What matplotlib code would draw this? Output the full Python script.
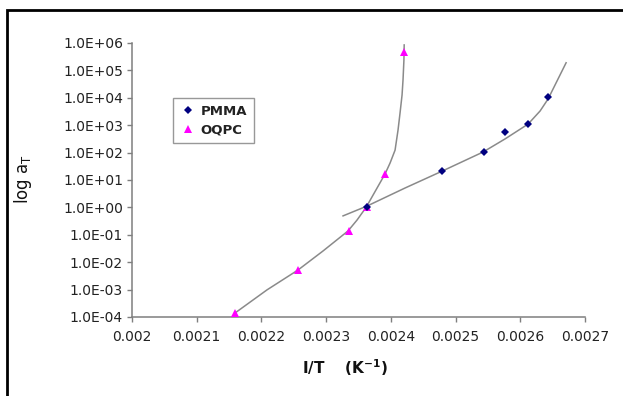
import matplotlib
matplotlib.use("Agg")
import matplotlib.pyplot as plt
from matplotlib.patches import Rectangle
from matplotlib.ticker import FixedLocator, FuncFormatter

# Data points
pmma_x = [0.002363, 0.002479, 0.002544, 0.002577, 0.002612, 0.002643]
pmma_y = [1.0, 21, 105, 560, 1100, 10700]
oqpc_x = [0.002159, 0.002257, 0.002335, 0.002363, 0.002391, 0.002420]
oqpc_y = [1.4e-4, 5.2e-3, 0.138, 1.0, 16.5, 4.7e5]

# Trend lines
pmma_fit_x = [0.0023261, 0.0023632, 0.0024219, 0.0024791, 0.0025425, 0.0025765,
              0.0026121, 0.0026306, 0.0026430, 0.0026708]
pmma_fit_y = [0.49, 1.12, 5.1, 21, 105, 316, 1100, 3300, 9100, 1.9e5]
oqpc_fit_x = [0.0021592, 0.0022087, 0.0022566, 0.0022952, 0.0023338, 0.0023478,
              0.0023617, 0.0023910, 0.0023988, 0.0024065, 0.0024111, 0.0024142,
              0.0024173, 0.0024188, 0.0024202, 0.0024206]
oqpc_fit_y = [1.4e-4, 9.8e-4, 5.2e-3, 0.0257, 0.138, 0.347,
              1.0, 16.6, 41.7, 123, 668, 2800,
              1.26e4, 4.5e4, 2.4e5, 8.5e5]

x_ticks = [0.002, 0.0021, 0.0022, 0.0023, 0.0024, 0.0025, 0.0026, 0.0027]
y_ticks = [1e-4, 1e-3, 1e-2, 1e-1, 1e0, 1e1, 1e2, 1e3, 1e4, 1e5, 1e6]

W, H = 623, 396
fig = plt.figure(figsize=(W / 100, H / 100), dpi=100)
fig.patch.set_facecolor("white")

# outer frame (extends beyond right and bottom edges)
fig.patches.append(Rectangle((7 / W, -0.2), 1.2, 1 - 10 / H + 0.2,
                             transform=fig.transFigure, fill=False,
                             edgecolor="black", linewidth=2.0))

ax = fig.add_axes([132 / W, 1 - 317 / H, (585 - 132) / W, (317 - 43) / H])
ax.set_yscale("log")
ax.set_xlim(0.002, 0.0027)
ax.set_ylim(1e-4, 1e6)

line_color = "#8a8a8a"
ax.plot(oqpc_fit_x, oqpc_fit_y, color=line_color, lw=1.1, zorder=2)
ax.plot(pmma_fit_x, pmma_fit_y, color=line_color, lw=1.1, zorder=2)
ax.plot(oqpc_x, oqpc_y, linestyle="none", marker="^", color="#ff00ff",
        markersize=6, markeredgewidth=0, label="OQPC", zorder=3, clip_on=False)
ax.plot(pmma_x, pmma_y, linestyle="none", marker="D", color="#000080",
        markersize=4.4, markeredgewidth=0, label="PMMA", zorder=4, clip_on=False)

ax.xaxis.set_major_locator(FixedLocator(x_ticks))
ax.yaxis.set_major_locator(FixedLocator(y_ticks))
ax.minorticks_off()
ax.xaxis.set_major_formatter(FuncFormatter(lambda v, p: f"{v:g}"))
ax.yaxis.set_major_formatter(FuncFormatter(lambda v, p: f"{v:.1E}"))

for s in ["top", "right"]:
    ax.spines[s].set_visible(False)
for s in ["left", "bottom"]:
    ax.spines[s].set_color("#7f7f7f")
    ax.spines[s].set_linewidth(1.1)

ax.tick_params(axis="both", direction="out", length=3.5, width=1.0,
               color="#7f7f7f", labelsize=10, labelcolor="#222222")
ax.tick_params(axis="y", pad=3)
ax.tick_params(axis="x", pad=6)

ax.set_xlabel("I/T    (K$^{\\mathbf{-1}}$)", fontsize=11, fontweight="bold",
              color="#111111")
ax.xaxis.label.set_va("center")
ax.xaxis.label.set_ha("center")
ax.xaxis.set_label_coords((345 - 132) / (585 - 132), -(368 - 317) / (317 - 43))
ax.set_ylabel("log a$_\\mathregular{T}$", fontsize=12, color="#111111")
ax.yaxis.label.set_va("center")
ax.yaxis.label.set_ha("center")
ax.yaxis.set_label_coords(-(132 - 23) / (585 - 132), (317 - 179) / (317 - 43))

handles, labels = ax.get_legend_handles_labels()
leg = ax.legend([handles[1], handles[0]], [labels[1], labels[0]],
                loc="upper left",
                bbox_to_anchor=((173 - 132) / (585 - 132), (317 - 98) / (317 - 43)),
                borderaxespad=0, frameon=True, fancybox=False,
                prop={"weight": "bold", "size": 9.5}, handlelength=1.3,
                handletextpad=0.3, borderpad=0.5, labelspacing=0.45,
                labelcolor="#222222")
leg.get_frame().set_edgecolor("#7f7f7f")
leg.get_frame().set_linewidth(1.0)

fig.savefig("out.png", dpi=100, facecolor="white")
